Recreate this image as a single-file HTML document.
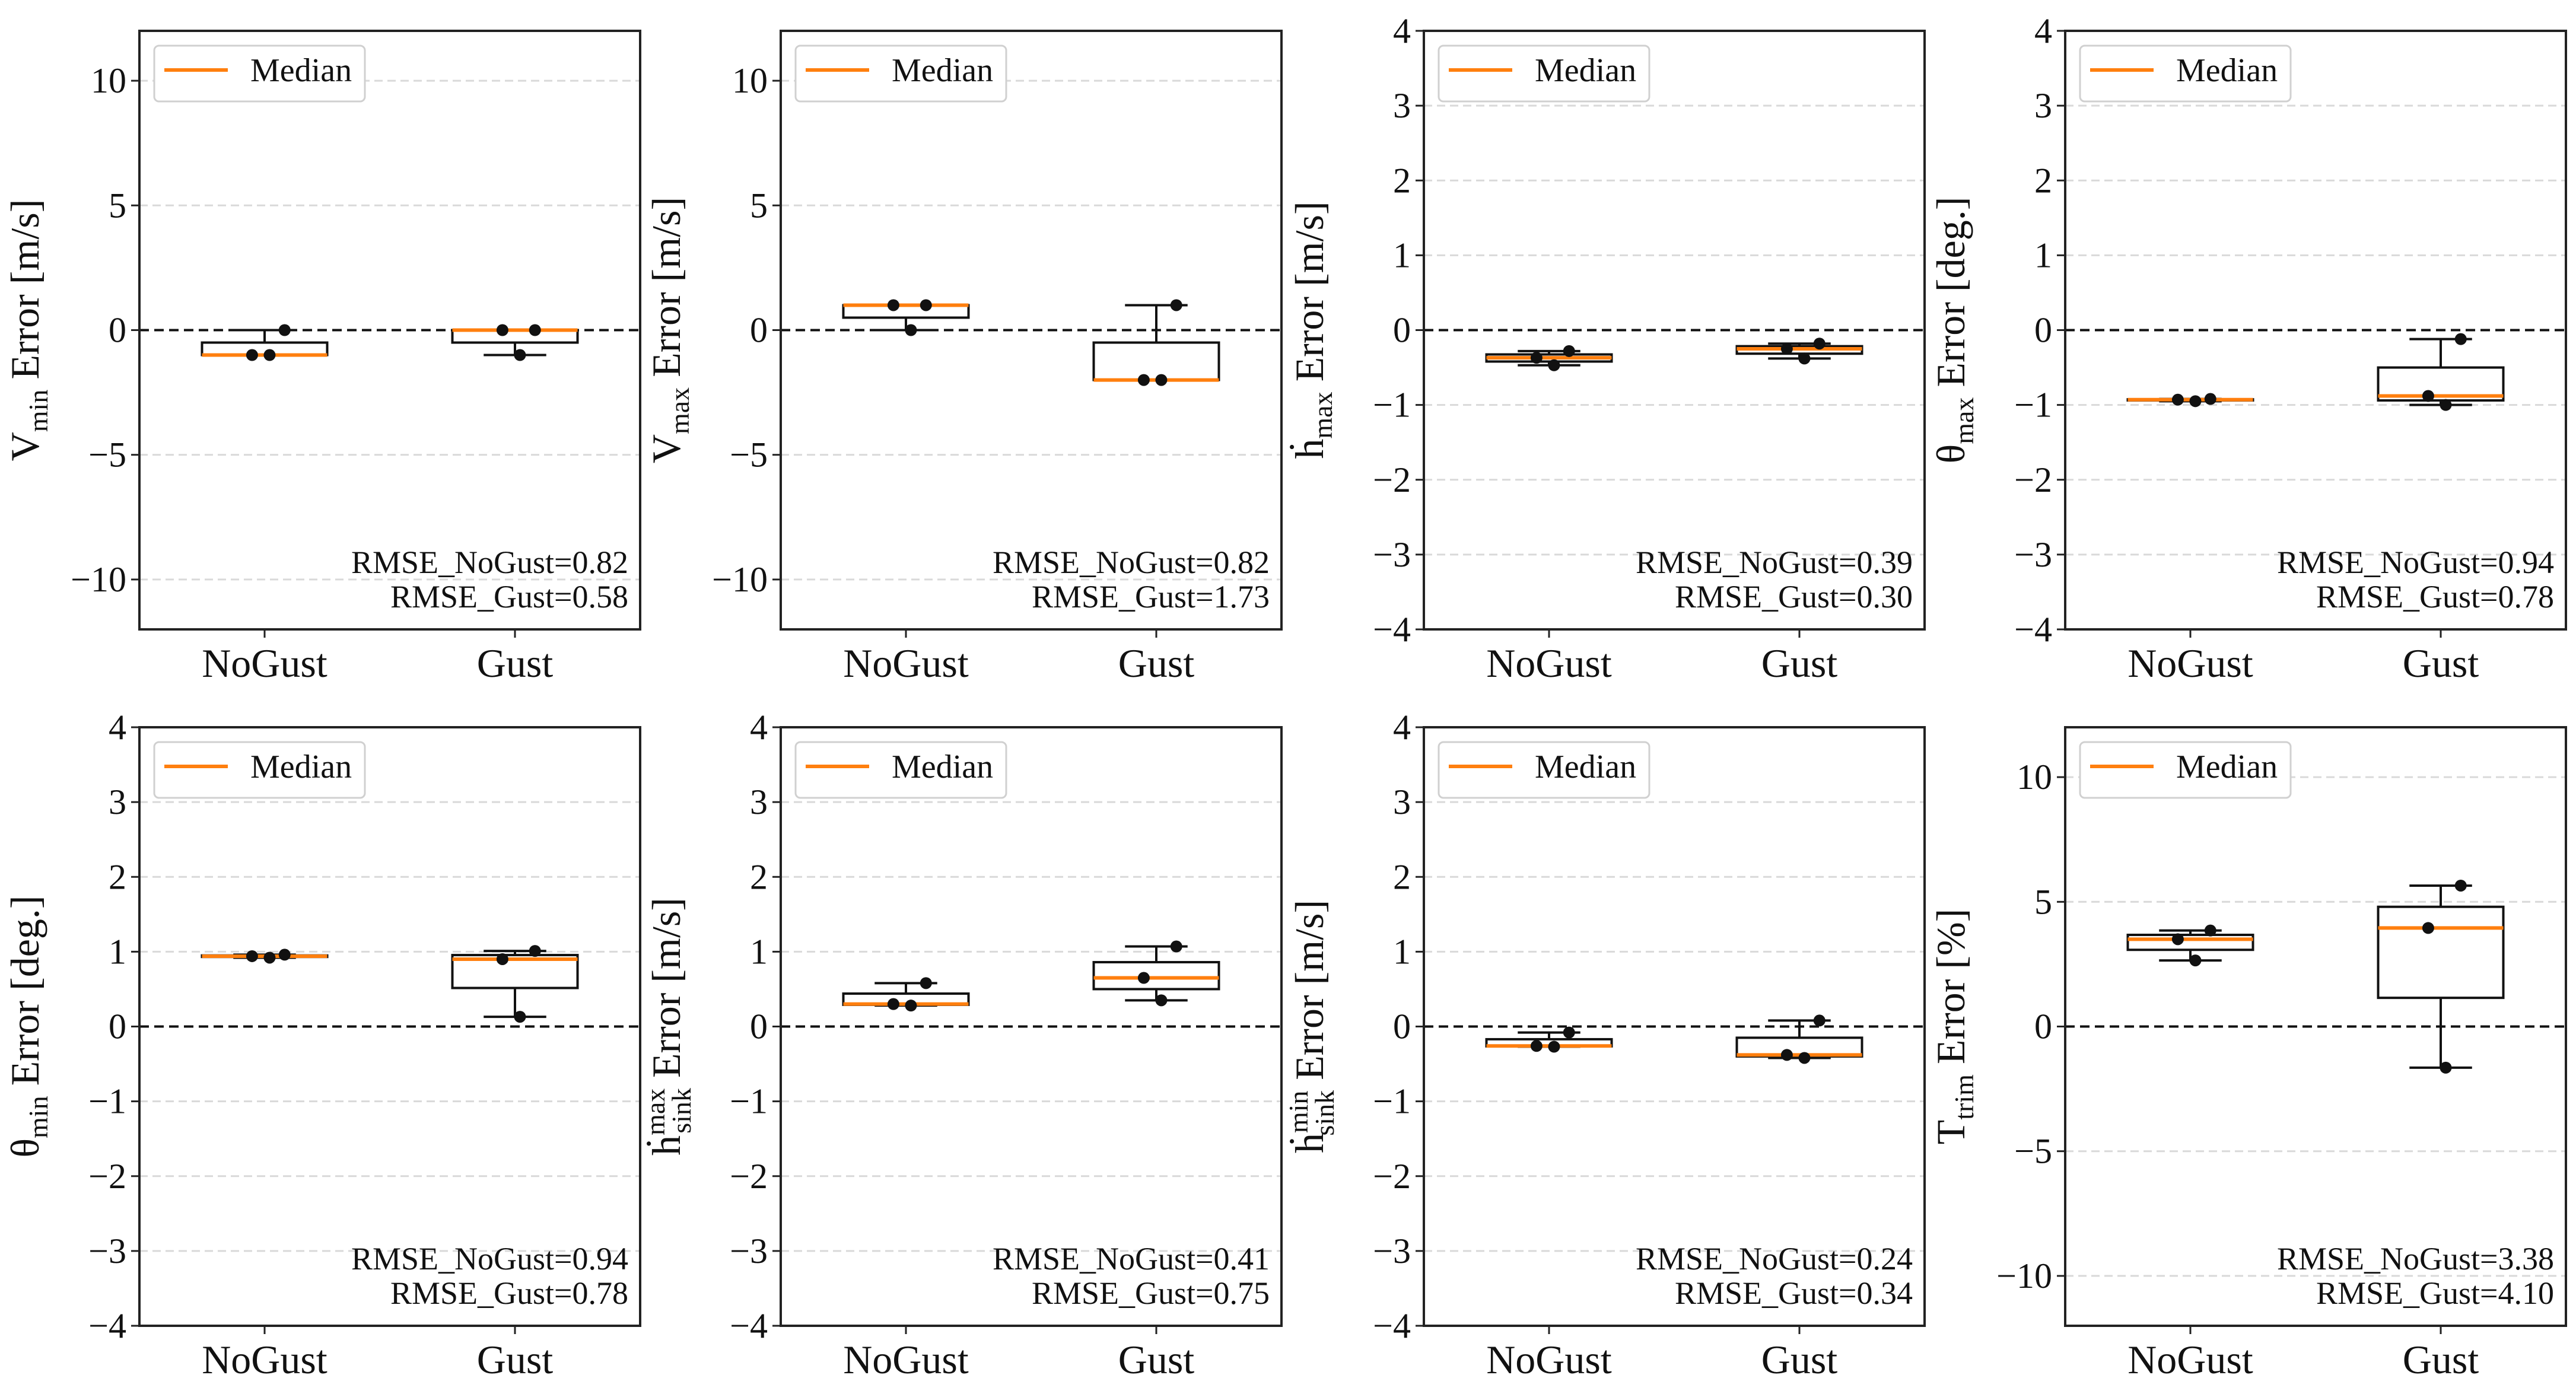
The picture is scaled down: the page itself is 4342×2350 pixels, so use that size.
<!DOCTYPE html>
<html><head><meta charset="utf-8">
<style>
html,body{margin:0;padding:0;background:#fff;}
svg{display:block;}
text{font-family:"Liberation Serif",serif;fill:#111;}
</style></head>
<body>
<svg id="fig" width="4342" height="2350" viewBox="0 0 4342 2350" xmlns="http://www.w3.org/2000/svg"></svg>
<script>
// ---- data ----
const categories = ["NoGust", "Gust"];
const panelNames = ["vmin","vmax","hdot-max","theta-max","theta-min","hsink-max","hsink-min","t-trim"];
const yLimits = [12, 12, 4, 4, 4, 4, 4, 12];
const yTickSteps = [5, 5, 1, 1, 1, 1, 1, 5];
const noGustPoints = [
  [-1, -1, 0], [0, 1, 1], [-0.47, -0.37, -0.28], [-0.95, -0.93, -0.92],
  [0.92, 0.94, 0.96], [0.28, 0.30, 0.58], [-0.27, -0.26, -0.08], [2.65, 3.5, 3.85]
];
const gustPoints = [
  [-1, 0, 0], [-2, -2, 1], [-0.38, -0.25, -0.18], [-1.0, -0.88, -0.12],
  [0.13, 0.90, 1.01], [0.35, 0.65, 1.07], [-0.42, -0.38, 0.08], [-1.65, 3.95, 5.65]
];
const jitter = [0.02, -0.05, 0.08];
const rmseNoGust = ["0.82","0.82","0.39","0.94","0.94","0.41","0.24","3.38"];
const rmseGust = ["0.58","1.73","0.30","0.78","0.78","0.75","0.34","4.10"];
const yLabelMain = ["V","V","h\u0307","\u03b8","\u03b8","h\u0307","h\u0307","T"];
const yLabelSub = ["min","max","max","max","min","sink","sink","trim"];
const yLabelSup = ["","","","","","max","min",""];
const yLabelUnit = [" Error [m/s]"," Error [m/s]"," Error [m/s]"," Error [deg.]"," Error [deg.]"," Error [m/s]"," Error [m/s]"," Error [%]"];

// ---- layout ----
const NS = "http://www.w3.org/2000/svg";
const svg = document.getElementById("fig");
const colLeft = [235, 1316, 2400, 3481];
const rowTop = [52, 1226];
const W = 844, H = 1009;

function mk(tag, attrs, parent){
  const e = document.createElementNS(NS, tag);
  for (const k in attrs) e.setAttribute(k, attrs[k]);
  parent.appendChild(e);
  return e;
}
function quant(arr, q){
  const s = arr.slice().sort((a,b)=>a-b);
  const p = (s.length-1)*q, lo = Math.floor(p), hi = Math.ceil(p);
  return s[lo] + (s[hi]-s[lo])*(p-lo);
}
function fmt(v){ return v < 0 ? "\u2212" + Math.abs(v) : String(v); }

for (let i = 0; i < 8; i++) {
  const L = colLeft[i % 4], T = rowTop[Math.floor(i / 4)];
  const lim = yLimits[i];
  const ys = v => T + (lim - v) / (2 * lim) * H;
  const xs = v => L + (v - 0.5) / 2 * W;
  const g = mk("g", {}, svg);
  
  

  for (let t = -Math.floor(lim / yTickSteps[i]) * yTickSteps[i]; t <= lim + 1e-9; t += yTickSteps[i]) {
    const y = ys(t);
    if (t !== 0 && Math.abs(t) < lim) {
      const gl = mk("line", {x1:L, x2:L+W, y1:y, y2:y, stroke:"#d9d9d9", "stroke-width":3, "stroke-dasharray":"14 8"}, g);
      
      
    }
    mk("line", {x1:L-14, x2:L, y1:y, y2:y, stroke:"#222", "stroke-width":3}, g);
    const tl = mk("text", {x:L-22, y:y+20, "text-anchor":"end", "font-size":60}, g);
    tl.textContent = fmt(t);
    
    
  }
  const zl = mk("line", {x1:L, x2:L+W, y1:ys(0), y2:ys(0), stroke:"#111", "stroke-width":4, "stroke-dasharray":"16 9"}, g);
  
  

  const sets = [noGustPoints[i], gustPoints[i]];
  for (let c = 0; c < 2; c++) {
    const pts = sets[c], pos = c + 1;
    const q1 = quant(pts, 0.25), med = quant(pts, 0.5), q3 = quant(pts, 0.75);
    const iqr = q3 - q1;
    const inLo = pts.filter(v => v >= q1 - 1.5 * iqr), inHi = pts.filter(v => v <= q3 + 1.5 * iqr);
    const wLo = Math.min(...inLo), wHi = Math.max(...inHi);
    const bg = mk("g", {}, g);
    
    
    const x0 = xs(pos - 0.25), x1 = xs(pos + 0.25), xc = xs(pos);
    const cx0 = xs(pos - 0.125), cx1 = xs(pos + 0.125);
    mk("line", {x1:xc, x2:xc, y1:ys(q3), y2:ys(wHi), stroke:"#111", "stroke-width":4}, bg);
    mk("line", {x1:xc, x2:xc, y1:ys(q1), y2:ys(wLo), stroke:"#111", "stroke-width":4}, bg);
    mk("line", {x1:cx0, x2:cx1, y1:ys(wHi), y2:ys(wHi), stroke:"#111", "stroke-width":4}, bg);
    mk("line", {x1:cx0, x2:cx1, y1:ys(wLo), y2:ys(wLo), stroke:"#111", "stroke-width":4}, bg);
    mk("rect", {x:x0, y:ys(q3), width:x1-x0, height:Math.max(ys(q1)-ys(q3),0.1), fill:"none", stroke:"#111", "stroke-width":4}, bg);
    const ml = mk("line", {x1:x0, x2:x1, y1:ys(med), y2:ys(med), stroke:"#ff7f0e", "stroke-width":6}, bg);
    
    
    pts.forEach((v, k) => {
      const p = mk("circle", {cx:xs(pos + jitter[k]), cy:ys(v), r:10, fill:"#111"}, bg);
      
      
    });
  }

  const fr = mk("rect", {x:L, y:T, width:W, height:H, fill:"none", stroke:"#222", "stroke-width":4}, g);
  
  

  categories.forEach((cat, c) => {
    const x = xs(c + 1);
    mk("line", {x1:x, x2:x, y1:T+H, y2:T+H+14, stroke:"#222", "stroke-width":3}, g);
    const xl = mk("text", {x:x, y:T+H+80, "text-anchor":"middle", "font-size":68}, g);
    xl.textContent = cat;
    
    
  });

  const yl = mk("text", {transform:`translate(${L-170},${T+H/2}) rotate(-90)`, "text-anchor":"middle", "font-size":68}, g);
  
  
  const t1 = mk("tspan", {}, yl); t1.textContent = yLabelMain[i];
  if (yLabelSup[i]) {
    const sp = mk("tspan", {"font-size":46, dy:-26}, yl); sp.textContent = yLabelSup[i];
    const sb = mk("tspan", {"font-size":46, dx:-76, dy:44}, yl); sb.textContent = yLabelSub[i];
    const u = mk("tspan", {dy:-18}, yl); u.textContent = yLabelUnit[i];
  } else {
    const sb = mk("tspan", {"font-size":46, dy:15}, yl); sb.textContent = yLabelSub[i];
    const u = mk("tspan", {dy:-15}, yl); u.textContent = yLabelUnit[i];
  }

  const lg = mk("g", {}, g);
  
  
  mk("rect", {x:L+25, y:T+25, width:355, height:94, rx:8, fill:"#fff", stroke:"#d0d0d0", "stroke-width":3}, lg);
  mk("line", {x1:L+42, x2:L+149, y1:T+66, y2:T+66, stroke:"#ff7f0e", "stroke-width":6}, lg);
  const lt = mk("text", {x:L+187, y:T+85, "font-size":56}, lg);
  lt.textContent = "Median";
  
  

  const r1 = mk("text", {x:L+W-20, y:T+H-95, "text-anchor":"end", "font-size":54}, g);
  r1.textContent = "RMSE_NoGust=" + rmseNoGust[i];
  
  
  const r2 = mk("text", {x:L+W-20, y:T+H-37, "text-anchor":"end", "font-size":54}, g);
  r2.textContent = "RMSE_Gust=" + rmseGust[i];
  
  
}
</script>
</body></html>
